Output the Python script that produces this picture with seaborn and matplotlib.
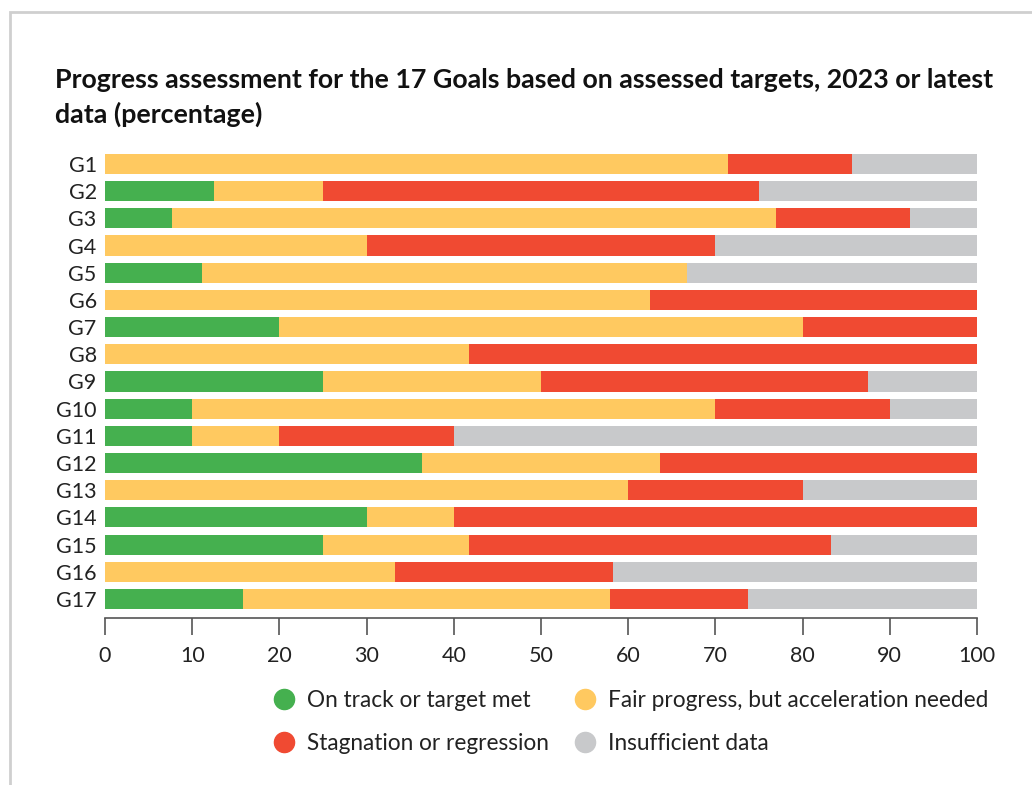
import numpy as np
import pandas as pd
import matplotlib.pyplot as plt
import seaborn as sns
from matplotlib.lines import Line2D
from matplotlib.patches import Rectangle

goals = [f"G{i}" for i in range(1, 18)]
on_track = [0, 12.5, 7.7, 0, 11.1, 0, 20, 0, 25, 10, 10, 36.4, 0, 30, 25, 0, 15.8]
fair = [71.4, 12.5, 69.2, 30, 55.6, 62.5, 60, 41.7, 25, 60, 10, 27.3, 60, 10, 16.7, 33.3, 42.1]
stagnation = [14.3, 50, 15.4, 40, 0, 37.5, 20, 58.3, 37.5, 20, 20, 36.3, 20, 60, 41.6, 25, 15.8]
insufficient = [14.3, 25, 7.7, 30, 33.3, 0, 0, 0, 12.5, 10, 60, 0, 20, 0, 16.7, 41.7, 26.3]

labels = ["On track or target met", "Fair progress, but acceleration needed",
          "Stagnation or regression", "Insufficient data"]
colors = ["#45b04f", "#ffc960", "#f04a32", "#c8c9cb"]

df = pd.DataFrame({"goal": goals, "on": on_track, "fair": fair,
                   "stag": stagnation, "insuf": insufficient})
cum = df[["on", "fair", "stag", "insuf"]].cumsum(axis=1)

sns.set_style("white")
plt.rcParams["font.family"] = ["Lato", "DejaVu Sans"]

fig = plt.figure(figsize=(10.32, 7.85), dpi=100)
ax = fig.add_axes([105 / 1032, 1 - 618 / 785, 872 / 1032, 469 / 785])

# stacked bars: draw cumulative totals from the back to the front
for col, c in zip(["insuf", "stag", "fair", "on"], colors[::-1]):
    sns.barplot(x=cum[col], y=df["goal"], orient="h", color=c, width=0.74,
                saturation=1, ax=ax, linewidth=0)

ax.set_xlim(0, 100)
ax.set_ylim(16.7, -0.55)
ax.set_xticks(range(0, 101, 10))
ax.set_xlabel("")
ax.set_ylabel("")
for s in ["top", "right", "left"]:
    ax.spines[s].set_visible(False)
ax.spines["bottom"].set_color("#555555")
ax.spines["bottom"].set_linewidth(1.2)
ax.tick_params(axis="x", direction="out", length=12, width=1.2, color="#555555",
               labelsize=15.5, labelcolor="#222222", pad=8, bottom=True)
ax.tick_params(axis="y", length=0, labelsize=15.5, labelcolor="#222222", pad=6)

fig.text(55 / 1032, 1 - 80 / 785,
         "Progress assessment for the 17 Goals based on assessed targets, 2023 or latest",
         fontsize=19.3, fontweight="bold", color="#111111", va="center")
fig.text(55 / 1032, 1 - 114 / 785, "data (percentage)",
         fontsize=19.3, fontweight="bold", color="#111111", va="center")

handles = [Line2D([], [], marker="o", linestyle="none", markersize=14.5,
                  markerfacecolor=colors[i], markeredgecolor=colors[i])
           for i in [0, 2, 1, 3]]
fig.legend(handles, [labels[i] for i in [0, 2, 1, 3]], ncol=2, frameon=False,
           loc="upper left", bbox_to_anchor=(273 / 1032, 1 - 690 / 785),
           borderpad=0, borderaxespad=0,
           fontsize=16.3, handletextpad=0.5, columnspacing=1.1, labelspacing=0.95,
           handlelength=1.0, labelcolor="#222222")

# light frame around the panel
fig.patches.append(Rectangle((10 / 1032, -0.02), 1.1, 1 - 12 / 785 + 0.02,
                             transform=fig.transFigure, fill=False,
                             edgecolor="#cfcfcf", linewidth=2))

fig.savefig("out.png", dpi=100)
